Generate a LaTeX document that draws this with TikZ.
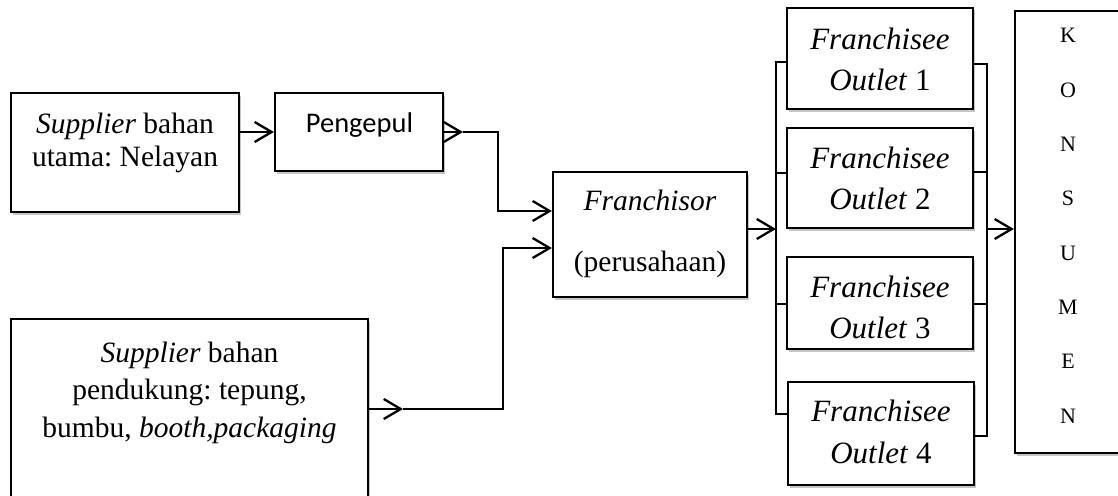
\documentclass[tikz,border=0pt]{standalone}
\usepackage{fontspec}
\setmainfont{Liberation Serif}
\newfontfamily\calibrifont{Carlito}
\usetikzlibrary{arrows.meta,shadows}
\frenchspacing
\begin{document}
\begin{tikzpicture}[x=1pt,y=-1pt,
  box/.style={draw=black, line width=2.2pt, fill=white, rectangle, inner sep=0pt,
    drop shadow={shadow xshift=2pt, shadow yshift=-2.5pt, fill=black!45, opacity=0.5}},
  body/.style={font=\fontsize{29.5}{33}\selectfont, anchor=base, inner sep=0pt},
  sanstxt/.style={font=\calibrifont\fontsize{28.5}{33}\selectfont, anchor=base, inner sep=0pt},
  outlettxt/.style={font=\fontsize{31}{35}\selectfont, anchor=base, inner sep=0pt},
  letter/.style={font=\fontsize{22}{24}\selectfont, anchor=base, inner sep=0pt},
  flow/.style={line width=2.3pt, -{Straight Barb[length=17pt,width=20pt]}},
  link/.style={line width=1.6pt},
]
\useasboundingbox (0,0) rectangle (1118,495);
\clip (0,0) rectangle (1118,495);

% boxes
\node[box, minimum width=228pt, minimum height=119pt] (sup1) at (125,152.5) {};
\node[box, minimum width=168pt, minimum height=78pt] (peng) at (359,132) {};
\node[box, minimum width=194pt, minimum height=125pt] (fr) at (650,234.5) {};
\node[box, minimum width=357pt, minimum height=201pt] (sup2) at (189.5,419.5) {};
\node[box, minimum width=186pt, minimum height=101pt] (o1) at (880,58.5) {};
\node[box, minimum width=186pt, minimum height=100pt] (o2) at (880,178) {};
\node[box, minimum width=186pt, minimum height=92pt] (o3) at (880,303) {};
\node[box, minimum width=186pt, minimum height=103pt] (o4) at (881,433.5) {};
\node[box, minimum width=140pt, minimum height=442pt] (kons) at (1085,232) {};

% texts
\node[body] (t1a) at (125,133) {\textit{Supplier} bahan};
\node[body] (t1b) at (125,166) {utama: Nelayan};
\node[sanstxt] (t2) at (359.5,132) {Pengepul};
\node[body] (t3a) at (650,210) {\textit{Franchisor}};
\node[body] (t3b) at (650,271) {(perusahaan)};
\node[body] (t4a) at (189.5,362) {\textit{Supplier} bahan};
\node[body] (t4b) at (189.5,399) {pendukung: tepung,};
\node[body] (t4c) at (189.5,437) {bumbu, \textit{booth,packaging}};
\node[outlettxt] (o1a) at (880,49) {\textit{Franchisee}};
\node[outlettxt] (o1b) at (880,90) {\textit{Outlet} 1};
\node[outlettxt] (o2a) at (880,168) {\textit{Franchisee}};
\node[outlettxt] (o2b) at (880,209) {\textit{Outlet} 2};
\node[outlettxt] (o3a) at (880,297) {\textit{Franchisee}};
\node[outlettxt] (o3b) at (880,338) {\textit{Outlet} 3};
\node[outlettxt] (o4a) at (881,421) {\textit{Franchisee}};
\node[outlettxt] (o4b) at (881,463) {\textit{Outlet} 4};
\foreach \ch [count=\i from 0] in {K,O,N,S,U,M,E,N}
  \node[letter] (k\i) at (1068,43+54.3*\i) {\ch};

% connectors on the supply side
\coordinate (k1) at (463,132);
\coordinate (k2) at (498,211);
\coordinate (k3) at (403,409);
\coordinate (k4) at (503,248);
\draw[flow] (sup1.east |- peng.west) -- (peng.west);
\draw[flow] (peng.east) -- (k1);
\draw[flow] (k1) -| (k2) -- (fr.west |- k2);
\draw[flow] (sup2.east |- k3) -- (k3);
\draw[flow] (k3) -| (k4) -- (fr.west |- k4);

% distribution bracket to the outlets
\coordinate (bl) at (776,229);
\coordinate (bl1) at (776,62);
\coordinate (bl2) at (776,173);
\coordinate (bl3) at (776,304);
\coordinate (bl4) at (776,414);
\draw[flow] (fr.east |- bl) -- (bl);
\draw[link] (o1.west |- bl1) -- (bl1) -- (bl4) -- (o4.west |- bl4);
\draw[link] (bl2) -- (o2.west |- bl2);
\draw[link] (bl3) -- (o3.west |- bl3);

% collecting bracket to the consumers
\coordinate (br) at (987,229);
\coordinate (br1) at (987,64);
\coordinate (br2) at (987,172);
\coordinate (br3) at (987,304);
\coordinate (br4) at (987,436);
\draw[link] (o1.east |- br1) -- (br1) -- (br4) -- (o4.east |- br4);
\draw[link] (o2.east |- br2) -- (br2);
\draw[link] (o3.east |- br3) -- (br3);
\draw[flow] (br) -- (kons.west |- br);
\end{tikzpicture}
\end{document}
